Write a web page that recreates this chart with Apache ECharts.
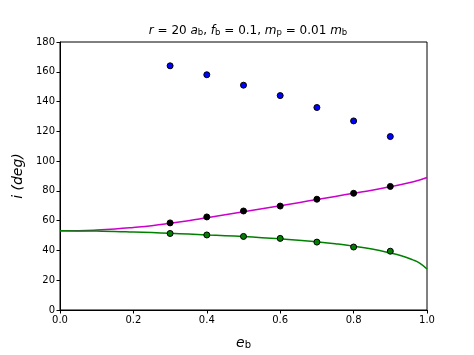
<!DOCTYPE html>
<html><head><meta charset="utf-8">
<script src="https://cdn.jsdelivr.net/npm/echarts@6/dist/echarts.min.js"></script>
<style>html,body{margin:0;padding:0;background:#fff}#c{width:474px;height:355px}</style>
</head><body><div id="c"></div>
<script>
const eSim = [0.3, 0.4, 0.5, 0.6, 0.7, 0.8, 0.9];
const iRetro = [164, 158, 151, 144, 136, 127, 116.5];
const iUpper = [58.5, 62.5, 66.5, 69.8, 74.4, 78.4, 83];
const iLower = [51.4, 50.4, 49.4, 48.1, 45.6, 42.3, 39.5];
const eCurve = [0, 0.05, 0.1, 0.15, 0.2, 0.25, 0.3, 0.35, 0.4, 0.45, 0.5, 0.55, 0.6, 0.65, 0.7, 0.75, 0.8, 0.85, 0.9, 0.93, 0.96, 0.98, 1.0];
const upperCurve = [53.2, 53.3, 53.7, 54.4, 55.4, 56.6, 58.2, 60.0, 62.0, 64.0, 66.0, 68.0, 70.0, 72.1, 74.2, 76.3, 78.4, 80.5, 82.8, 84.3, 86.0, 87.3, 89.0];
const lowerCurve = [53.2, 53.1, 53.0, 52.8, 52.4, 52.0, 51.5, 51.0, 50.4, 49.9, 49.3, 48.6, 47.8, 46.9, 45.8, 44.5, 42.9, 40.9, 38.3, 36.4, 33.8, 31.5, 27.5];
const xTicks = [0, 0.2, 0.4, 0.6, 0.8, 1.0];
const yTicks = [0, 20, 40, 60, 80, 100, 120, 140, 160, 180];

const pair = (xs, ys) => xs.map((x, k) => [x, ys[k]]);
const chart = echarts.init(document.getElementById('c'));
const FONT = 'DejaVu Sans';
chart.setOption({
  animation: false,
  backgroundColor: '#fff',
  title: {
    text: '{it|r}{n| = 20 }{it|a}{sub|b}{n|, }{it|f}{sub|b}{n| = 0.1, }{it|m}{sub|p}{n| = 0.01 }{it|m}{sub|b}',
    left: 243, textAlign: 'center', top: 14,
    textStyle: {
      fontWeight: 'normal',
      rich: {
        n: {fontFamily: FONT, fontSize: 12, fontWeight: 'normal', color: '#000', lineHeight: 18, verticalAlign: 'bottom'},
        it: {fontFamily: FONT, fontSize: 12, fontWeight: 'normal', fontStyle: 'italic', color: '#000', lineHeight: 18, verticalAlign: 'bottom'},
        sub: {fontFamily: FONT, fontSize: 8.5, fontWeight: 'normal', color: '#000', lineHeight: 14, verticalAlign: 'bottom'}
      }
    }
  },
  grid: {left: 60, right: 47, top: 42, bottom: 40, show: true, borderColor: '#000', borderWidth: 1, backgroundColor: 'transparent'},
  xAxis: {
    type: 'value', min: 0, max: 1, interval: 0.2,
    name: '{it|e}{sub|b}', nameLocation: 'middle', nameGap: 20,
    nameTextStyle: {rich: {
      it: {fontFamily: FONT, fontSize: 14, fontStyle: 'italic', color: '#000', verticalAlign: 'bottom', lineHeight: 20},
      sub: {fontFamily: FONT, fontSize: 10, color: '#000', verticalAlign: 'bottom', lineHeight: 16}
    }},
    axisLine: {lineStyle: {color: '#000', width: 1}},
    axisTick: {inside: false, length: 3.5, lineStyle: {color: '#000'}},
    axisLabel: {fontFamily: FONT, fontSize: 10, color: '#000', margin: 5, formatter: v => v.toFixed(1)},
    splitLine: {show: false}
  },
  yAxis: {
    type: 'value', min: 0, max: 180, interval: 20,
    name: '{it|i}{n| (deg)}', nameLocation: 'middle', nameGap: 30, nameRotate: 90,
    nameTextStyle: {rich: {
      it: {fontFamily: FONT, fontSize: 14, fontStyle: 'italic', color: '#000'},
      n: {fontFamily: FONT, fontSize: 14, fontStyle: 'italic', color: '#000'}
    }},
    axisLine: {show: true, lineStyle: {color: '#000', width: 1}},
    axisTick: {show: true, inside: false, length: 3.5, lineStyle: {color: '#000'}},
    axisLabel: {fontFamily: FONT, fontSize: 10, color: '#000', margin: 5},
    splitLine: {show: false}
  },
  series: [
    {type: 'line', data: pair(eCurve, upperCurve), smooth: true, showSymbol: false, lineStyle: {color: '#cc00cc', width: 1.5}, z: 2},
    {type: 'line', data: pair(eCurve, lowerCurve), smooth: true, showSymbol: false, lineStyle: {color: '#008000', width: 1.5}, z: 2},
    {type: 'scatter', data: pair(eSim, iRetro), symbolSize: 6, itemStyle: {color: '#0000ff', borderColor: '#000', borderWidth: 1, opacity: 1}, z: 3},
    {type: 'scatter', data: pair(eSim, iUpper), symbolSize: 6, itemStyle: {color: '#000', borderColor: '#000', borderWidth: 1, opacity: 1}, z: 3},
    {type: 'scatter', data: pair(eSim, iLower), symbolSize: 6, itemStyle: {color: '#008000', borderColor: '#000', borderWidth: 1, opacity: 1}, z: 3}
  ]
});
</script></body></html>
